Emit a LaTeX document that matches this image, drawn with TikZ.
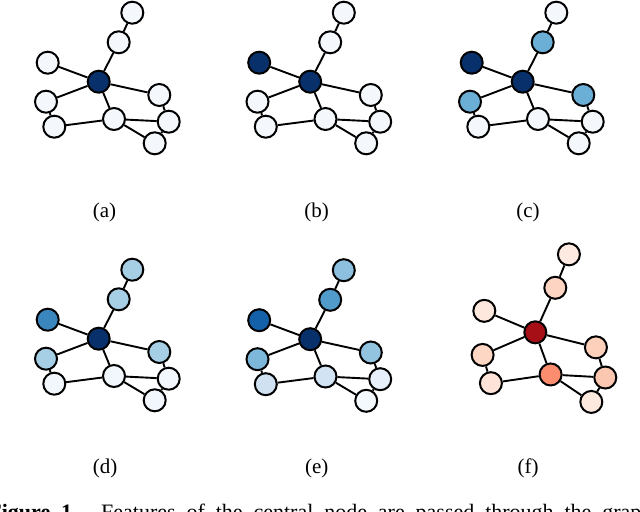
\documentclass[tikz,border=0pt]{standalone}
\usepackage{fontspec}
\setmainfont{Liberation Serif}
\usetikzlibrary{backgrounds}
% (a)
\definecolor{a1}{HTML}{F4F8FD}\definecolor{a2}{HTML}{F4F8FD}\definecolor{a3}{HTML}{F4F8FD}
\definecolor{a4}{HTML}{08306B}\definecolor{a5}{HTML}{F4F8FD}\definecolor{a6}{HTML}{F4F8FD}
\definecolor{a7}{HTML}{F4F8FD}\definecolor{a8}{HTML}{F4F8FD}\definecolor{a9}{HTML}{F4F8FD}
\definecolor{a10}{HTML}{F4F8FD}
% (b)
\definecolor{b1}{HTML}{F4F8FD}\definecolor{b2}{HTML}{F4F8FD}\definecolor{b3}{HTML}{08306B}
\definecolor{b4}{HTML}{08306B}\definecolor{b5}{HTML}{F4F8FD}\definecolor{b6}{HTML}{F4F8FD}
\definecolor{b7}{HTML}{F4F8FD}\definecolor{b8}{HTML}{F4F8FD}\definecolor{b9}{HTML}{F4F8FD}
\definecolor{b10}{HTML}{F4F8FD}
% (c)
\definecolor{c1}{HTML}{F4F8FD}\definecolor{c2}{HTML}{6BAED6}\definecolor{c3}{HTML}{08306B}
\definecolor{c4}{HTML}{08306B}\definecolor{c5}{HTML}{6BAED6}\definecolor{c6}{HTML}{6BAED6}
\definecolor{c7}{HTML}{F4F8FD}\definecolor{c8}{HTML}{F4F8FD}\definecolor{c9}{HTML}{F4F8FD}
\definecolor{c10}{HTML}{F4F8FD}
% (d)
\definecolor{d1}{HTML}{A6CEE4}\definecolor{d2}{HTML}{A6CEE4}\definecolor{d3}{HTML}{3A87C0}
\definecolor{d4}{HTML}{08306B}\definecolor{d5}{HTML}{A6CEE4}\definecolor{d6}{HTML}{A6CEE4}
\definecolor{d7}{HTML}{F1F7FD}\definecolor{d8}{HTML}{F1F7FD}\definecolor{d9}{HTML}{F1F7FD}
\definecolor{d10}{HTML}{F1F7FD}
% (e)
\definecolor{e1}{HTML}{8DC0DE}\definecolor{e2}{HTML}{519BCB}\definecolor{e3}{HTML}{1561A9}
\definecolor{e4}{HTML}{08306B}\definecolor{e5}{HTML}{7DB8DA}\definecolor{e6}{HTML}{92C3DF}
\definecolor{e7}{HTML}{D0E1F2}\definecolor{e8}{HTML}{D2E3F3}\definecolor{e9}{HTML}{E7F0FA}
\definecolor{e10}{HTML}{F4F9FE}
% (f)
\definecolor{f1}{HTML}{FEEAE0}\definecolor{f2}{HTML}{FDD3C1}\definecolor{f3}{HTML}{FEE8DD}
\definecolor{f4}{HTML}{A50F15}\definecolor{f5}{HTML}{FDD6C4}\definecolor{f6}{HTML}{FDD0BC}
\definecolor{f7}{HTML}{FEE4D8}\definecolor{f8}{HTML}{FC8D6E}\definecolor{f9}{HTML}{FCC7B0}
\definecolor{f10}{HTML}{FEE9DF}
\tikzset{
  gnode/.style={circle, draw=black, line width=1pt, minimum size=11pt, inner sep=0pt},
  gedge/.style={draw=black, line width=0.95pt},
  sublabel/.style={font=\fontsize{10.5}{12}\selectfont, anchor=base},
}
\newcommand\mygraph[2]{%
  \begin{scope}[#2]
    \coordinate (#1-p1) at (132.3,12.7);
    \coordinate (#1-p2) at (118.7,42.3);
    \coordinate (#1-p3) at (47.7,62.7);
    \coordinate (#1-p4) at (98.7,81.7);
    \coordinate (#1-p5) at (46,101.7);
    \coordinate (#1-p6) at (159.3,95);
    \coordinate (#1-p7) at (54.3,126.7);
    \coordinate (#1-p8) at (114,119);
    \coordinate (#1-p9) at (168.7,121.7);
    \coordinate (#1-p10) at (154.7,143.3);
  \end{scope}
  \foreach \i in {1,...,10} {\node[gnode, fill=#1\i] (#1-\i) at (#1-p\i) {};}
  \begin{scope}[on background layer]
    \foreach \u/\v in {1/2,2/4,3/4,4/5,4/6,4/8,5/7,7/8,8/9,8/10,6/9,9/10}
      {\draw[gedge] (#1-\u) -- (#1-\v);}
  \end{scope}
}
\begin{document}
\begin{tikzpicture}[x=0.5pt, y=-0.5pt]
  \clip (0,0) rectangle (640,512);
  \mygraph{a}{}
  \mygraph{b}{shift={(211.5,0)}}
  \mygraph{c}{shift={(424,0)}}
  \mygraph{d}{shift={(0,257)}}
  \mygraph{e}{shift={(211.5,257.5)}}
  \mygraph{f}{shift={(436.6,240)}, yscale=1.13}
  \node[sublabel] (la) at (104.5,217.5) {(a)};
  \node[sublabel] (lb) at (316.5,217.5) {(b)};
  \node[sublabel] (lc) at (528,217.5) {(c)};
  \node[sublabel] (ld) at (105,473) {(d)};
  \node[sublabel] (le) at (316.7,473) {(e)};
  \node[sublabel] (lf) at (528,473) {(f)};
  \node[font=\fontsize{11}{13}\selectfont, anchor=base west, inner sep=0pt] (cap) at (-12,519.5)
    {\makebox[332pt][s]{\textbf{Figure 1.} Features of the central node are passed through the graph}};
\end{tikzpicture}
\end{document}
